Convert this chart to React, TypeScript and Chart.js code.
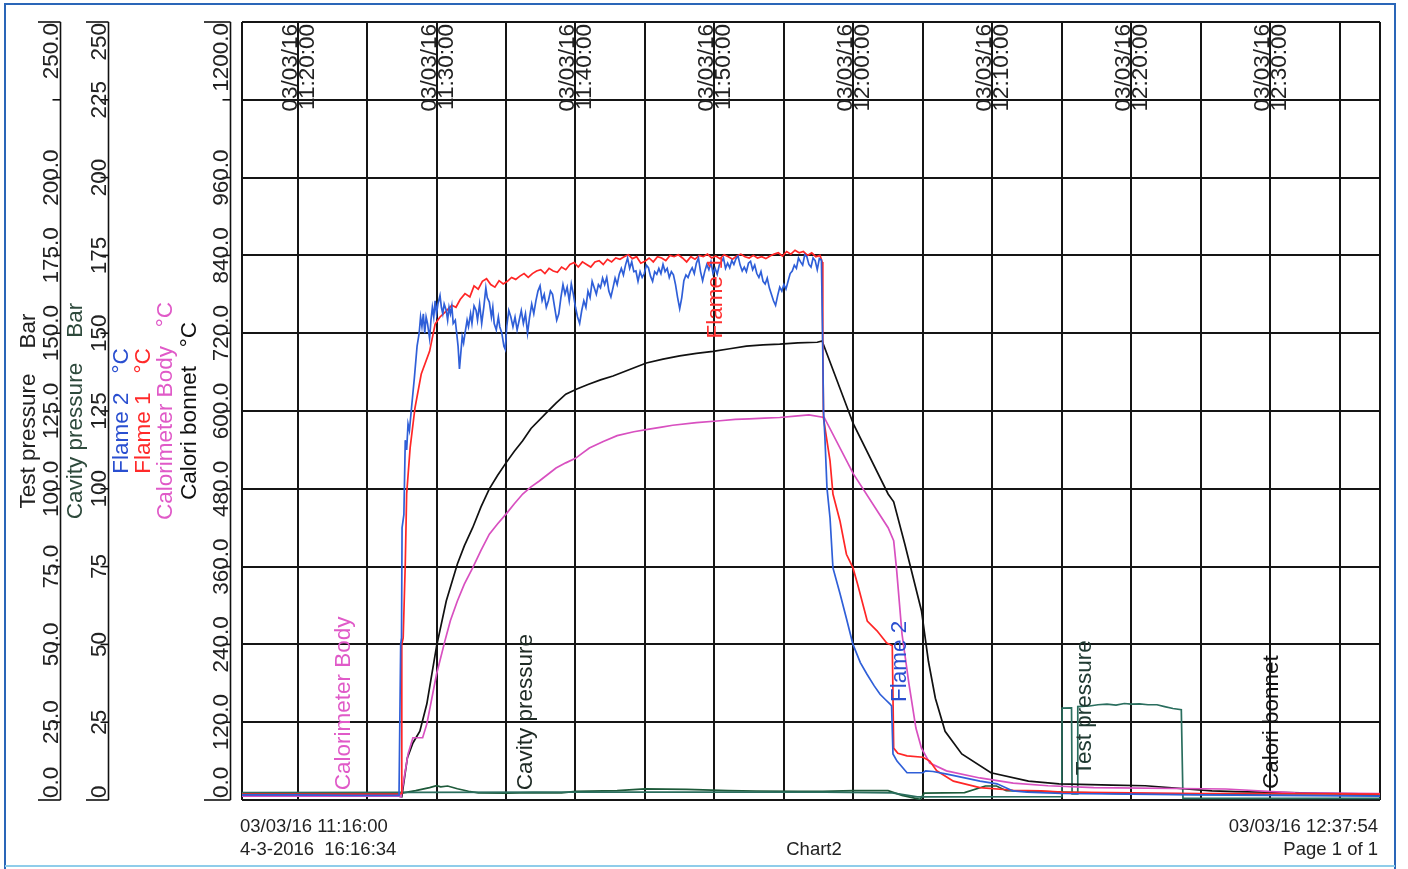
import React, { useEffect, useRef } from "react";
import { Chart, registerables } from "chart.js";

Chart.register(...registerables);

// ---- time axis (minutes after 11:00 on 03/03/16) ----
const START_MIN = 16; // 11:16:00
const END_MIN = 97.9; // 12:37:54
const gridMinutes = [16, 20, 25, 30, 35, 40, 45, 50, 55, 60, 65, 70, 75, 80, 85, 90, 95, 97.9];
const timeTickMinutes = [20, 30, 40, 50, 60, 70, 80, 90];
const timeTickDates = ["03/03/16", "03/03/16", "03/03/16", "03/03/16", "03/03/16", "03/03/16", "03/03/16", "03/03/16"];
const timeTickClock = ["11:20:00", "11:30:00", "11:40:00", "11:50:00", "12:00:00", "12:10:00", "12:20:00", "12:30:00"];

// ---- value axes ----
const tempTicks = [0, 120, 240, 360, 480, 600, 720, 840, 960, 1080, 1200];
const pressureTicks = [0, 25, 50, 75, 100, 125, 150, 175, 200, 225, 250];

// ---- series: [minute, value] ----
const flame2: [number, number][] = [
  [16, 8], [20, 8], [24, 7], [27.3, 7], [27.42, 240], [27.48, 250], [27.52, 420], [27.65, 440], [27.75, 555],
  [27.85, 540], [27.95, 580], [28.05, 570], [28.2, 605], [28.4, 650], [28.6, 700], [28.75, 720], [28.85, 745],
  [28.95, 730], [29.05, 750], [29.15, 720], [29.25, 745], [29.35, 735], [29.5, 712], [29.6, 740], [29.7, 760],
  [29.8, 745], [29.9, 770], [30.0, 750], [30.1, 765], [30.25, 778], [30.35, 760], [30.45, 750], [30.55, 765],
  [30.7, 755], [30.8, 740], [30.9, 760], [31.0, 750], [31.1, 762], [31.2, 735], [31.35, 740], [31.45, 720],
  [31.55, 700], [31.65, 665], [31.75, 690], [31.85, 715], [31.95, 705], [32.05, 720], [32.2, 740], [32.3, 730],
  [32.45, 750], [32.55, 735], [32.7, 762], [32.85, 755], [32.95, 740], [33.1, 765], [33.25, 735], [33.4, 760],
  [33.55, 790], [33.65, 775], [33.8, 768], [33.95, 745], [34.05, 760], [34.15, 735], [34.3, 725], [34.45, 745],
  [34.55, 730], [34.7, 720], [34.85, 700], [34.95, 695], [35.05, 730], [35.2, 755], [35.35, 745], [35.5, 730],
  [35.65, 745], [35.8, 725], [35.95, 740], [36.1, 755], [36.25, 735], [36.4, 750], [36.55, 720], [36.7, 745],
  [36.85, 765], [37.0, 750], [37.15, 770], [37.3, 785], [37.45, 793], [37.6, 770], [37.75, 780], [37.9, 760],
  [38.05, 770], [38.2, 785], [38.35, 780], [38.5, 760], [38.65, 740], [38.8, 750], [38.95, 775], [39.1, 795],
  [39.25, 780], [39.4, 791], [39.55, 770], [39.7, 796], [39.85, 780], [40.0, 760], [40.15, 745], [40.3, 735],
  [40.45, 755], [40.6, 770], [40.75, 760], [40.9, 785], [41.05, 775], [41.2, 800], [41.35, 790], [41.5, 780],
  [41.65, 795], [41.8, 790], [41.95, 805], [42.1, 795], [42.25, 806], [42.4, 785], [42.55, 776], [42.7, 790],
  [42.85, 805], [43.0, 795], [43.15, 811], [43.3, 820], [43.45, 810], [43.6, 825], [43.75, 836], [43.9, 820],
  [44.05, 830], [44.2, 815], [44.35, 816], [44.5, 800], [44.65, 815], [44.8, 806], [44.95, 812], [45.1, 825],
  [45.25, 821], [45.4, 808], [45.55, 800], [45.7, 815], [45.85, 811], [46.0, 820], [46.15, 812], [46.3, 826],
  [46.45, 815], [46.6, 820], [46.75, 806], [46.9, 815], [47.05, 810], [47.2, 795], [47.35, 775], [47.5, 758],
  [47.65, 775], [47.8, 801], [47.95, 810], [48.1, 806], [48.25, 815], [48.4, 821], [48.55, 812], [48.7, 828],
  [48.85, 836], [49.0, 815], [49.15, 801], [49.3, 815], [49.45, 826], [49.6, 818], [49.75, 830], [49.9, 812],
  [50.05, 820], [50.2, 811], [50.35, 825], [50.5, 830], [50.65, 836], [50.8, 820], [50.95, 828], [51.1, 821],
  [51.25, 832], [51.4, 826], [51.55, 835], [51.7, 839], [51.85, 825], [52.0, 816], [52.15, 822], [52.3, 815],
  [52.45, 828], [52.6, 831], [52.75, 818], [52.9, 825], [53.05, 812], [53.2, 806], [53.35, 815], [53.5, 800],
  [53.65, 796], [53.8, 805], [53.95, 790], [54.1, 780], [54.25, 770], [54.4, 763], [54.55, 778], [54.7, 791],
  [54.85, 785], [55.0, 795], [55.15, 788], [55.3, 800], [55.45, 812], [55.6, 816], [55.75, 825], [55.9, 820],
  [56.05, 836], [56.2, 830], [56.35, 825], [56.5, 841], [56.65, 838], [56.8, 826], [56.95, 822], [57.1, 836],
  [57.25, 832], [57.4, 818], [57.55, 835], [57.7, 833], [57.78, 720], [57.85, 600], [57.95, 560], [58.1, 481],
  [58.32, 435], [58.53, 358], [59.04, 318], [59.5, 280], [59.97, 240], [60.5, 212], [60.98, 194], [61.5, 176],
  [61.92, 163], [62.3, 155], [62.64, 148], [62.75, 145], [62.85, 71], [63.14, 60], [63.86, 42], [65.01, 42],
  [65.2, 45], [65.73, 44], [66.74, 40], [69.11, 29], [70.34, 25], [71.49, 14], [72.5, 12], [75, 10], [80, 9],
  [85, 8], [90, 7], [97.9, 6],
];

const flame1: [number, number][] = [
  [16, 9], [27.3, 9], [27.45, 10], [27.5, 240], [27.6, 250], [27.75, 364], [27.85, 472], [28.1, 543],
  [28.45, 605], [28.9, 657], [29.5, 692], [29.9, 734], [30.25, 745], [30.6, 752], [31.1, 763], [31.4, 760],
  [31.7, 772], [32.05, 781], [32.4, 776], [32.7, 793], [33.0, 788], [33.3, 800], [33.6, 804], [33.9, 795],
  [34.2, 791], [34.5, 801], [34.8, 796], [35.1, 800], [35.4, 806], [35.7, 803], [36.0, 808], [36.3, 812],
  [36.6, 806], [36.9, 812], [37.2, 816], [37.5, 818], [37.8, 812], [38.1, 820], [38.4, 816], [38.7, 814],
  [39.0, 822], [39.3, 818], [39.6, 826], [39.9, 829], [40.2, 822], [40.5, 830], [40.8, 826], [41.1, 822],
  [41.4, 830], [41.7, 832], [42.0, 826], [42.3, 834], [42.6, 830], [42.9, 836], [43.2, 834], [43.5, 838],
  [43.8, 841], [44.1, 835], [44.4, 838], [44.7, 828], [45.0, 831], [45.3, 836], [45.6, 830], [45.9, 838],
  [46.2, 836], [46.5, 832], [46.8, 840], [47.1, 838], [47.4, 841], [47.7, 836], [48.0, 830], [48.3, 838],
  [48.6, 834], [48.9, 840], [49.2, 838], [49.5, 842], [49.8, 836], [50.1, 839], [50.4, 835], [50.7, 841],
  [51.0, 838], [51.3, 834], [51.6, 839], [51.9, 842], [52.2, 838], [52.5, 836], [52.8, 840], [53.1, 836],
  [53.4, 838], [53.7, 835], [54.0, 839], [54.3, 842], [54.6, 844], [54.9, 839], [55.2, 846], [55.5, 842],
  [55.8, 848], [56.1, 844], [56.4, 846], [56.7, 840], [57.0, 844], [57.3, 838], [57.6, 840], [57.75, 830],
  [57.8, 700], [57.85, 589], [58.32, 523], [58.53, 472], [59.04, 430], [59.5, 379], [59.97, 358], [60.3, 333],
  [61.0, 276], [61.7, 261], [62.4, 242], [62.64, 240], [62.8, 238], [62.9, 80], [63.2, 72], [63.86, 68],
  [65.01, 66], [65.5, 60], [66.0, 45], [67.2, 29], [69.1, 19], [71.5, 15], [73.5, 14], [75, 12], [80, 11],
  [85, 10], [90, 10], [97.9, 9],
];

const calorimeterBody: [number, number][] = [
  [16, 6], [27.3, 6], [27.45, 5], [27.95, 71], [28.3, 96], [29.0, 96], [29.3, 117], [30.0, 194], [30.6, 245],
  [31.0, 277], [31.5, 307], [32.0, 333], [32.6, 358], [33.2, 385], [33.8, 410], [34.4, 426], [35.0, 441],
  [35.6, 457], [36.2, 472], [36.8, 483], [37.4, 492], [38.0, 502], [38.6, 512], [39.3, 520], [40.0, 527],
  [40.5, 535], [41.0, 543], [42.0, 553], [43.0, 562], [44.2, 568], [45.3, 572], [46.2, 575], [47.0, 578],
  [48.7, 582], [50.4, 585], [51.5, 587], [52.5, 588], [53.6, 589], [54.7, 590], [55.8, 592], [56.8, 594],
  [57.9, 590], [60.0, 503], [62.5, 420], [62.9, 400], [63.1, 358], [63.5, 256], [64.0, 179], [64.5, 111],
  [64.9, 80], [65.5, 57], [66.7, 45], [69.1, 34], [71.5, 26], [74.0, 22], [77.3, 19], [86.8, 17], [91.8, 11],
  [97.9, 10],
];

const caloriBonnet: [number, number][] = [
  [16, 7], [27.3, 6], [27.5, 5], [27.9, 65], [28.3, 88], [28.8, 106], [29.3, 148], [30.0, 237], [30.7, 307],
  [31.5, 364], [32.0, 392], [32.6, 420], [33.2, 452], [33.8, 480], [34.4, 501], [35.0, 520], [35.6, 538],
  [36.2, 554], [36.8, 573], [37.9, 597], [38.6, 612], [39.3, 626], [40.1, 634], [40.9, 641], [41.8, 648],
  [42.7, 654], [43.9, 664], [45.1, 674], [46.3, 680], [47.5, 685], [48.7, 689], [49.9, 692], [51.1, 696],
  [52.3, 700], [53.5, 702], [54.7, 703], [56.0, 705], [57.4, 706], [57.75, 708],
  [60.0, 580], [62.5, 472], [62.9, 460], [63.7, 395], [64.9, 292], [65.4, 214], [65.9, 157], [66.6, 106],
  [67.8, 71], [69.9, 42], [72.6, 29], [74.8, 25], [78.6, 23], [81.0, 22], [85.8, 14], [87.5, 13], [95, 10],
  [97.9, 9],
];

const testPressure: [number, number][] = [
  [16, 2.4], [40, 2.5], [58, 2.5], [62.8, 2.3], [64.6, 1.0], [75.0, 1.1], [75.02, 29.5], [75.7, 29.6],
  [75.74, 2.0], [76.1, 2.0], [76.15, 30.0], [77.0, 30.2], [77.6, 30.6], [78.25, 30.8], [78.9, 30.5],
  [79.5, 31.0], [80.0, 30.8], [80.6, 30.9], [81.2, 30.6], [81.85, 30.6], [82.4, 30.0], [83.0, 29.4],
  [83.6, 29.0], [83.72, 0.5], [97.9, 0.5],
];

const cavityPressure: [number, number][] = [
  [16, 2.0], [27.3, 2.0], [27.5, 2.2], [28.5, 3.0], [29.5, 4.0], [30.0, 4.6], [30.3, 4.2], [30.8, 4.5],
  [31.5, 3.6], [32.3, 2.8], [33.0, 2.3], [35.0, 2.2], [37.0, 2.4], [39.0, 2.3], [40.0, 2.8], [43.0, 3.0],
  [45.0, 3.6], [48.0, 3.4], [51.0, 3.0], [53.0, 2.9], [56.0, 2.8], [57.8, 2.8], [60.0, 3.0], [62.5, 3.0],
  [63.5, 1.5], [64.8, 0.2], [65.1, 2.2], [68.0, 2.4], [69.5, 4.5], [70.3, 4.5], [71.0, 3.0], [75.0, 2.5],
  [80, 2.0], [90, 1.6], [97.9, 1.5],
];

// ---- in-plot series labels: [minute, °C] of label start ----
const seriesLabels = [
  { text: "Calorimeter Body", at: [23.77, 15], color: "#e05ac8" },
  { text: "Cavity pressure", at: [36.87, 15], color: "#1e2a24" },
  { text: "Flame 1", at: [50.54, 712], color: "#ff3030" },
  { text: "Flame 2", at: [63.79, 151], color: "#2a4fd0" },
  { text: "Test pressure", at: [77.1, 38], color: "#203a32" },
  { text: "Calori bonnet", at: [90.56, 17], color: "#111111" },
];

const FONT = '"Liberation Sans", Arial, Helvetica, sans-serif';
const VSIZE = 22.5;

function vText(ctx: CanvasRenderingContext2D, text: string, x: number, y: number, align: CanvasTextAlign, color: string, size = VSIZE) {
  ctx.save();
  ctx.translate(x, y);
  ctx.rotate(-Math.PI / 2);
  ctx.font = `${size}px ${FONT}`;
  ctx.fillStyle = color;
  ctx.textAlign = align;
  ctx.textBaseline = "alphabetic";
  ctx.fillText(text, 0, 0);
  ctx.restore();
}

const overlayPlugin = {
  id: "overlay",
  beforeDraw(chart: any) {
    const ctx = chart.ctx as CanvasRenderingContext2D;
    ctx.save();
    ctx.fillStyle = "#ffffff";
    ctx.fillRect(0, 0, chart.width, chart.height);
    ctx.restore();
  },
  afterDraw(chart: any) {
    const ctx = chart.ctx as CanvasRenderingContext2D;
    const { top, bottom } = chart.chartArea;
    const xs = chart.scales.x;
    const yT = chart.scales.yT;
    const yP = chart.scales.yP;
    const yC = chart.scales.yC;
    const mid = (top + bottom) / 2;

    // left value axes
    const axes = [
      { scale: yP, ticks: pressureTicks, lineX: 60.5, labelX: 58, endFrom: 38, fmt: (v: number) => v.toFixed(1), hide: [225] },
      { scale: yC, ticks: pressureTicks, lineX: 108.5, labelX: 106, endFrom: 86, fmt: (v: number) => String(v), hide: [] as number[] },
      { scale: yT, ticks: tempTicks, lineX: 230.5, labelX: 228, endFrom: 204, fmt: (v: number) => v.toFixed(1), hide: [1080] },
    ];
    ctx.save();
    ctx.strokeStyle = "#111";
    ctx.lineWidth = 1.6;
    for (const ax of axes) {
      ctx.beginPath();
      ctx.moveTo(ax.lineX, top);
      ctx.lineTo(ax.lineX, bottom);
      ctx.stroke();
      ax.ticks.forEach((v, i) => {
        const y = ax.scale.getPixelForValue(v);
        const isEnd = i === 0 || i === ax.ticks.length - 1;
        ctx.beginPath();
        ctx.moveTo(isEnd ? ax.endFrom : ax.lineX - 8, y);
        ctx.lineTo(ax.lineX, y);
        ctx.stroke();
        if (ax.hide.includes(v)) return;
        const txt = ax.fmt(v);
        ctx.font = `${VSIZE}px ${FONT}`;
        const w = ctx.measureText(txt).width;
        let align: CanvasTextAlign = "center";
        let yy = y;
        if (y - w / 2 < top) { align = "right"; yy = top + 1; }
        else if (y + w / 2 > bottom) { align = "left"; yy = bottom - 2; }
        vText(ctx, txt, ax.labelX, yy, align, "#222");
      });
    }
    ctx.restore();

    // axis titles
    vText(ctx, "Test pressure    Bar", 35, mid, "center", "#222");
    vText(ctx, "Cavity pressure    Bar", 82, mid, "center", "#2e4a3c");
    vText(ctx, "Flame 2   °C", 128, mid, "center", "#2a4fd0");
    vText(ctx, "Flame 1   °C", 150, mid, "center", "#ff2a2a");
    vText(ctx, "Calorimeter Body   °C", 172, mid, "center", "#e05ac8");
    vText(ctx, "Calori bonnet   °C", 196, mid, "center", "#111");

    // time labels at the top of the plot
    timeTickMinutes.forEach((m, i) => {
      const gx = xs.getPixelForValue(m);
      vText(ctx, timeTickDates[i], gx - 1, top + 2, "right", "#222");
      vText(ctx, timeTickClock[i], gx + 16, top + 2, "right", "#222");
    });

    // in-plot series labels
    for (const s of seriesLabels) {
      const px = xs.getPixelForValue(s.at[0]);
      const py = yT.getPixelForValue(s.at[1]);
      vText(ctx, s.text, px, py, "left", s.color);
    }

    // footer
    ctx.save();
    ctx.fillStyle = "#222";
    ctx.font = `18.5px ${FONT}`;
    ctx.textBaseline = "alphabetic";
    ctx.textAlign = "left";
    ctx.fillText("03/03/16 11:16:00", 240, 832);
    ctx.fillText("4-3-2016  16:16:34", 240, 855);
    ctx.textAlign = "center";
    ctx.fillText("Chart2", 814, 855);
    ctx.textAlign = "right";
    ctx.fillText("03/03/16 12:37:54", 1378, 832);
    ctx.fillText("Page 1 of 1", 1378, 855);
    ctx.restore();

    // page frame
    ctx.save();
    ctx.lineWidth = 2;
    ctx.strokeStyle = "#2a66b8";
    ctx.beginPath();
    ctx.moveTo(5, 869);
    ctx.lineTo(5, 4);
    ctx.lineTo(1395, 4);
    ctx.lineTo(1395, 869);
    ctx.stroke();
    ctx.strokeStyle = "#8fcdea";
    ctx.beginPath();
    ctx.moveTo(5, 866);
    ctx.lineTo(1395, 866);
    ctx.stroke();
    ctx.restore();
  },
};

const toXY = (arr: [number, number][]) => arr.map(([x, y]) => ({ x, y }));

export default function App() {
  const ref = useRef<HTMLCanvasElement | null>(null);
  useEffect(() => {
    if (!ref.current) return;
    const gridStyle = { color: "#151515", lineWidth: 2, drawTicks: false };
    const chart = new Chart(ref.current, {
      type: "line",
      data: {
        datasets: [
          { label: "Flame 2", data: toXY(flame2), borderColor: "#2f5fd8", yAxisID: "yT" },
          { label: "Flame 1", data: toXY(flame1), borderColor: "#ff2626", yAxisID: "yT" },
          { label: "Calorimeter Body", data: toXY(calorimeterBody), borderColor: "#d850c0", yAxisID: "yT" },
          { label: "Calori bonnet", data: toXY(caloriBonnet), borderColor: "#111111", yAxisID: "yT" },
          { label: "Test pressure", data: toXY(testPressure), borderColor: "#2a6e5e", yAxisID: "yP" },
          { label: "Cavity pressure", data: toXY(cavityPressure), borderColor: "#1e5a3a", yAxisID: "yC" },
        ] as any,
      },
      options: {
        responsive: false,
        animation: false,
        devicePixelRatio: 1,
        layout: { padding: { left: 242, right: 28, top: 22, bottom: 69 } },
        elements: { point: { radius: 0 }, line: { borderWidth: 1.7, tension: 0 } },
        plugins: { legend: { display: false }, tooltip: { enabled: false } },
        scales: {
          x: {
            type: "linear",
            min: START_MIN,
            max: END_MIN,
            grid: gridStyle,
            border: { display: false },
            ticks: { display: false },
            afterBuildTicks: (s: any) => { s.ticks = gridMinutes.map((v) => ({ value: v })); },
          },
          yT: {
            type: "linear",
            position: "left",
            min: 0,
            max: 1200,
            grid: gridStyle,
            border: { display: false },
            ticks: { display: false },
            afterBuildTicks: (s: any) => { s.ticks = tempTicks.map((v) => ({ value: v })); },
          },
          yP: { type: "linear", position: "left", min: 0, max: 250, display: false },
          yC: { type: "linear", position: "left", min: 0, max: 250, display: false },
        },
      } as any,
      plugins: [overlayPlugin],
    });
    return () => chart.destroy();
  }, []);
  return (
    <div style={{ position: "fixed", left: 0, top: 0, width: 1408, height: 869, background: "#fff" }}>
      <canvas ref={ref} width={1408} height={869} style={{ display: "block" }} />
    </div>
  );
}
